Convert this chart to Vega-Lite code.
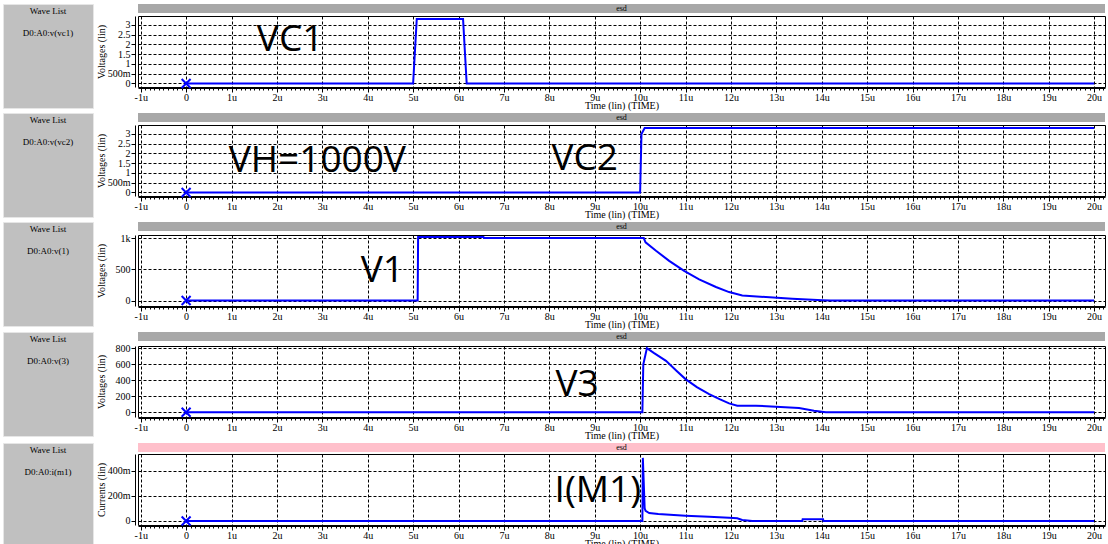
{
  "$schema": "https://vega.github.io/schema/vega-lite/v6.json",
  "padding": {"left": 2, "top": 3, "right": 0, "bottom": 0},
  "background": "white",
  "datasets": {
    "vc1": [{"t":0,"v":0},{"t":5.0,"v":0},{"t":5.08,"v":3.3},{"t":6.1,"v":3.3},{"t":6.18,"v":0},{"t":20,"v":0}],
    "vc2": [{"t":0,"v":0},{"t":10.0,"v":0},{"t":10.03,"v":3.0},{"t":10.1,"v":3.3},{"t":20,"v":3.3}],
    "v1": [{"t":0,"v":0},{"t":5.1,"v":0},{"t":5.11,"v":1015},{"t":6.55,"v":1015},{"t":6.56,"v":1000},{"t":10.08,"v":1000},{"t":10.12,"v":930},{"t":10.35,"v":796},{"t":10.64,"v":635},{"t":10.97,"v":474},{"t":11.3,"v":339},{"t":11.67,"v":216},{"t":11.96,"v":135},{"t":12.25,"v":81},{"t":12.77,"v":55},{"t":13.35,"v":27},{"t":14.02,"v":5},{"t":14.2,"v":0},{"t":20,"v":0}],
    "v3": [{"t":0,"v":0},{"t":10.05,"v":0},{"t":10.07,"v":600},{"t":10.15,"v":804},{"t":10.3,"v":745},{"t":10.57,"v":645},{"t":10.8,"v":520},{"t":11.0,"v":416},{"t":11.25,"v":315},{"t":11.52,"v":229},{"t":11.75,"v":165},{"t":11.96,"v":112},{"t":12.14,"v":83},{"t":12.55,"v":83},{"t":12.99,"v":70},{"t":13.5,"v":54},{"t":13.83,"v":20},{"t":14.09,"v":0},{"t":20,"v":0}],
    "im1": [{"t":0,"v":0},{"t":10.05,"v":0},{"t":10.06,"v":0.5},{"t":10.1,"v":0.1},{"t":10.12,"v":0.08},{"t":10.2,"v":0.063},{"t":10.4,"v":0.055},{"t":11.0,"v":0.042},{"t":11.52,"v":0.034},{"t":11.96,"v":0.026},{"t":12.14,"v":0.021},{"t":12.25,"v":0.008},{"t":12.47,"v":0},{"t":13.57,"v":0},{"t":13.58,"v":0.013},{"t":14.03,"v":0.013},{"t":14.04,"v":0},{"t":20,"v":0}]
  },
  "spacing": 1,
  "vconcat": [
    {
      "spacing": -4, "align": "none",
      "hconcat": [
        {"width": 90, "height": 104, "view": {"fill": "#c0c0c0", "stroke": "#e6e6e6"},
         "data": {"values": [{"kind": "button", "label": "Wave List"}, {"kind": "item", "label": "D0:A0:v(vc1)"}]},
         "mark": {"type": "text", "font": "Liberation Serif", "fontSize": 9, "color": "black"},
         "encoding": {"y": {"field": "kind", "type": "nominal", "scale": {"type": "point", "domain": ["button", "item", "a", "b", "c"], "padding": 0.3}, "axis": null}, "text": {"field": "label"}}},
        {"spacing": 1, "align": "none", "vconcat": [
          {"width": 967, "height": 9, "view": {"fill": "#a8a8a8", "stroke": null}, "data": {"values": [{"name": "esd"}]},
           "mark": {"type": "text", "font": "Liberation Serif", "fontSize": 8, "color": "black"}, "encoding": {"text": {"field": "name"}}},
          {"width": 967, "height": 71, "view": {"stroke": "black", "fill": "white"},
           "data": {"name": "vc1"},
           "encoding": {
             "x": {"field": "t", "type": "quantitative", "scale": {"domain": [-1.06, 20.24], "nice": false, "zero": false},
                   "axis": {"title": "Time (lin) (TIME)", "tickCount": 210, "labelExpr": "abs(datum.value-round(datum.value))<0.001 ? (round(datum.value)==0 ? '0' : round(datum.value)+'u') : ''", "labelOverlap": false, "labelFlush": false, "grid": true, "gridOpacity": {"condition": {"test": "abs(datum.value-round(datum.value))<0.001", "value": 1}, "value": 0}, "tickSize": {"condition": {"test": "abs(datum.value-round(datum.value))<0.001", "value": 4}, "value": 2}, "offset": 1, "labelPadding": 0, "titlePadding": -2}},
             "y": {"field": "v", "type": "quantitative", "scale": {"domain": [-0.18, 3.46], "nice": false, "zero": false},
                   "axis": {"title": "Voltages (lin)", "values": [0, 0.5, 1, 1.5, 2, 2.5, 3], "labelExpr": "datum.value==0.5 ? '500m' : format(datum.value, '~g')", "labelOverlap": false, "grid": true, "offset": 3, "tickSize": 4, "labelPadding": 1, "minExtent": 44, "maxExtent": 44, "titleX": -29}}
           },
           "layer": [
             {"mark": {"type": "line", "color": "#0000ff", "strokeWidth": 2}},
             {"transform": [{"filter": "datum.t==0"}], "mark": {"type": "point", "shape": "M-1,-1L1,1M-1,1L1,-1", "filled": false, "color": "#0000ff", "strokeWidth": 2, "size": 80, "opacity": 1}},
             {"data": {"values": [{"label": "VC1", "t": 2.29, "v": 2.24}]}, "mark": {"type": "text", "font": "Open Sans", "fontSize": 37, "color": "black"},
              "encoding": {"text": {"field": "label"}}}
           ]}
        ]}
      ]
    },
    {
      "spacing": -4, "align": "none",
      "hconcat": [
        {"width": 90, "height": 104, "view": {"fill": "#c0c0c0", "stroke": "#e6e6e6"},
         "data": {"values": [{"kind": "button", "label": "Wave List"}, {"kind": "item", "label": "D0:A0:v(vc2)"}]},
         "mark": {"type": "text", "font": "Liberation Serif", "fontSize": 9, "color": "black"},
         "encoding": {"y": {"field": "kind", "type": "nominal", "scale": {"type": "point", "domain": ["button", "item", "a", "b", "c"], "padding": 0.3}, "axis": null}, "text": {"field": "label"}}},
        {"spacing": 1, "align": "none", "vconcat": [
          {"width": 967, "height": 9, "view": {"fill": "#a8a8a8", "stroke": null}, "data": {"values": [{"name": "esd"}]},
           "mark": {"type": "text", "font": "Liberation Serif", "fontSize": 8, "color": "black"}, "encoding": {"text": {"field": "name"}}},
          {"width": 967, "height": 71, "view": {"stroke": "black", "fill": "white"},
           "data": {"name": "vc2"},
           "encoding": {
             "x": {"field": "t", "type": "quantitative", "scale": {"domain": [-1.06, 20.24], "nice": false, "zero": false},
                   "axis": {"title": "Time (lin) (TIME)", "tickCount": 210, "labelExpr": "abs(datum.value-round(datum.value))<0.001 ? (round(datum.value)==0 ? '0' : round(datum.value)+'u') : ''", "labelOverlap": false, "labelFlush": false, "grid": true, "gridOpacity": {"condition": {"test": "abs(datum.value-round(datum.value))<0.001", "value": 1}, "value": 0}, "tickSize": {"condition": {"test": "abs(datum.value-round(datum.value))<0.001", "value": 4}, "value": 2}, "offset": 1, "labelPadding": 0, "titlePadding": -2}},
             "y": {"field": "v", "type": "quantitative", "scale": {"domain": [-0.18, 3.46], "nice": false, "zero": false},
                   "axis": {"title": "Voltages (lin)", "values": [0, 0.5, 1, 1.5, 2, 2.5, 3], "labelExpr": "datum.value==0.5 ? '500m' : format(datum.value, '~g')", "labelOverlap": false, "grid": true, "offset": 3, "tickSize": 4, "labelPadding": 1, "minExtent": 44, "maxExtent": 44, "titleX": -29}}
           },
           "layer": [
             {"mark": {"type": "line", "color": "#0000ff", "strokeWidth": 2}},
             {"transform": [{"filter": "datum.t==0"}], "mark": {"type": "point", "shape": "M-1,-1L1,1M-1,1L1,-1", "filled": false, "color": "#0000ff", "strokeWidth": 2, "size": 80, "opacity": 1}},
             {"data": {"values": [{"label": "VH=1000V", "t": 2.89, "v": 1.6}, {"label": "VC2", "t": 8.78, "v": 1.7}]}, "mark": {"type": "text", "font": "Open Sans", "fontSize": 37, "color": "black"},
              "encoding": {"text": {"field": "label"}}}
           ]}
        ]}
      ]
    },
    {
      "spacing": -4, "align": "none",
      "hconcat": [
        {"width": 90, "height": 104, "view": {"fill": "#c0c0c0", "stroke": "#e6e6e6"},
         "data": {"values": [{"kind": "button", "label": "Wave List"}, {"kind": "item", "label": "D0:A0:v(1)"}]},
         "mark": {"type": "text", "font": "Liberation Serif", "fontSize": 9, "color": "black"},
         "encoding": {"y": {"field": "kind", "type": "nominal", "scale": {"type": "point", "domain": ["button", "item", "a", "b", "c"], "padding": 0.3}, "axis": null}, "text": {"field": "label"}}},
        {"spacing": 1, "align": "none", "vconcat": [
          {"width": 967, "height": 9, "view": {"fill": "#a8a8a8", "stroke": null}, "data": {"values": [{"name": "esd"}]},
           "mark": {"type": "text", "font": "Liberation Serif", "fontSize": 8, "color": "black"}, "encoding": {"text": {"field": "name"}}},
          {"width": 967, "height": 71, "view": {"stroke": "black", "fill": "white"},
           "data": {"name": "v1"},
           "encoding": {
             "x": {"field": "t", "type": "quantitative", "scale": {"domain": [-1.06, 20.24], "nice": false, "zero": false},
                   "axis": {"title": "Time (lin) (TIME)", "tickCount": 210, "labelExpr": "abs(datum.value-round(datum.value))<0.001 ? (round(datum.value)==0 ? '0' : round(datum.value)+'u') : ''", "labelOverlap": false, "labelFlush": false, "grid": true, "gridOpacity": {"condition": {"test": "abs(datum.value-round(datum.value))<0.001", "value": 1}, "value": 0}, "tickSize": {"condition": {"test": "abs(datum.value-round(datum.value))<0.001", "value": 4}, "value": 2}, "offset": 1, "labelPadding": 0, "titlePadding": -2}},
             "y": {"field": "v", "type": "quantitative", "scale": {"domain": [-88, 1048], "nice": false, "zero": false},
                   "axis": {"title": "Voltages (lin)", "values": [0, 500, 1000], "labelExpr": "datum.value==1000 ? '1k' : format(datum.value, '~g')", "labelOverlap": false, "grid": true, "offset": 3, "tickSize": 4, "labelPadding": 1, "minExtent": 44, "maxExtent": 44, "titleX": -29}}
           },
           "layer": [
             {"mark": {"type": "line", "color": "#0000ff", "strokeWidth": 2}},
             {"transform": [{"filter": "datum.t==0"}], "mark": {"type": "point", "shape": "M-1,-1L1,1M-1,1L1,-1", "filled": false, "color": "#0000ff", "strokeWidth": 2, "size": 80, "opacity": 1}},
             {"data": {"values": [{"label": "V1", "t": 4.32, "v": 470}]}, "mark": {"type": "text", "font": "Open Sans", "fontSize": 37, "color": "black"},
              "encoding": {"text": {"field": "label"}}}
           ]}
        ]}
      ]
    },
    {
      "spacing": -4, "align": "none",
      "hconcat": [
        {"width": 90, "height": 104, "view": {"fill": "#c0c0c0", "stroke": "#e6e6e6"},
         "data": {"values": [{"kind": "button", "label": "Wave List"}, {"kind": "item", "label": "D0:A0:v(3)"}]},
         "mark": {"type": "text", "font": "Liberation Serif", "fontSize": 9, "color": "black"},
         "encoding": {"y": {"field": "kind", "type": "nominal", "scale": {"type": "point", "domain": ["button", "item", "a", "b", "c"], "padding": 0.3}, "axis": null}, "text": {"field": "label"}}},
        {"spacing": 1, "align": "none", "vconcat": [
          {"width": 967, "height": 9, "view": {"fill": "#a8a8a8", "stroke": null}, "data": {"values": [{"name": "esd"}]},
           "mark": {"type": "text", "font": "Liberation Serif", "fontSize": 8, "color": "black"}, "encoding": {"text": {"field": "name"}}},
          {"width": 967, "height": 71, "view": {"stroke": "black", "fill": "white"},
           "data": {"name": "v3"},
           "encoding": {
             "x": {"field": "t", "type": "quantitative", "scale": {"domain": [-1.06, 20.24], "nice": false, "zero": false},
                   "axis": {"title": "Time (lin) (TIME)", "tickCount": 210, "labelExpr": "abs(datum.value-round(datum.value))<0.001 ? (round(datum.value)==0 ? '0' : round(datum.value)+'u') : ''", "labelOverlap": false, "labelFlush": false, "grid": true, "gridOpacity": {"condition": {"test": "abs(datum.value-round(datum.value))<0.001", "value": 1}, "value": 0}, "tickSize": {"condition": {"test": "abs(datum.value-round(datum.value))<0.001", "value": 4}, "value": 2}, "offset": 1, "labelPadding": 0, "titlePadding": -2}},
             "y": {"field": "v", "type": "quantitative", "scale": {"domain": [-59, 831], "nice": false, "zero": false},
                   "axis": {"title": "Voltages (lin)", "values": [0, 200, 400, 600, 800], "labelOverlap": false, "grid": true, "offset": 3, "tickSize": 4, "labelPadding": 1, "minExtent": 44, "maxExtent": 44, "titleX": -29}}
           },
           "layer": [
             {"mark": {"type": "line", "color": "#0000ff", "strokeWidth": 2}},
             {"transform": [{"filter": "datum.t==0"}], "mark": {"type": "point", "shape": "M-1,-1L1,1M-1,1L1,-1", "filled": false, "color": "#0000ff", "strokeWidth": 2, "size": 80, "opacity": 1}},
             {"data": {"values": [{"label": "V3", "t": 8.61, "v": 340}]}, "mark": {"type": "text", "font": "Open Sans", "fontSize": 37, "color": "black"},
              "encoding": {"text": {"field": "label"}}}
           ]}
        ]}
      ]
    },
    {
      "spacing": -4, "align": "none",
      "hconcat": [
        {"width": 90, "height": 104, "view": {"fill": "#c0c0c0", "stroke": "#e6e6e6"},
         "data": {"values": [{"kind": "button", "label": "Wave List"}, {"kind": "item", "label": "D0:A0:i(m1)"}]},
         "mark": {"type": "text", "font": "Liberation Serif", "fontSize": 9, "color": "black"},
         "encoding": {"y": {"field": "kind", "type": "nominal", "scale": {"type": "point", "domain": ["button", "item", "a", "b", "c"], "padding": 0.3}, "axis": null}, "text": {"field": "label"}}},
        {"spacing": 1, "align": "none", "vconcat": [
          {"width": 967, "height": 9, "view": {"fill": "#ffc0cb", "stroke": null}, "data": {"values": [{"name": "esd"}]},
           "mark": {"type": "text", "font": "Liberation Serif", "fontSize": 8, "color": "black"}, "encoding": {"text": {"field": "name"}}},
          {"width": 967, "height": 71, "view": {"stroke": "black", "fill": "white"},
           "data": {"name": "im1"},
           "encoding": {
             "x": {"field": "t", "type": "quantitative", "scale": {"domain": [-1.06, 20.24], "nice": false, "zero": false},
                   "axis": {"title": "Time (lin) (TIME)", "tickCount": 210, "labelExpr": "abs(datum.value-round(datum.value))<0.001 ? (round(datum.value)==0 ? '0' : round(datum.value)+'u') : ''", "labelOverlap": false, "labelFlush": false, "grid": true, "gridOpacity": {"condition": {"test": "abs(datum.value-round(datum.value))<0.001", "value": 1}, "value": 0}, "tickSize": {"condition": {"test": "abs(datum.value-round(datum.value))<0.001", "value": 4}, "value": 2}, "offset": 1, "labelPadding": 0, "titlePadding": -2}},
             "y": {"field": "v", "type": "quantitative", "scale": {"domain": [-0.032, 0.531], "nice": false, "zero": false},
                   "axis": {"title": "Currents (lin)", "values": [0, 0.2, 0.4], "labelExpr": "datum.value==0 ? '0' : round(datum.value*1000)+'m'", "labelOverlap": false, "grid": true, "offset": 3, "tickSize": 4, "labelPadding": 1, "minExtent": 44, "maxExtent": 44, "titleX": -29}}
           },
           "layer": [
             {"mark": {"type": "line", "color": "#0000ff", "strokeWidth": 2}},
             {"transform": [{"filter": "datum.t==0"}], "mark": {"type": "point", "shape": "M-1,-1L1,1M-1,1L1,-1", "filled": false, "color": "#0000ff", "strokeWidth": 2, "size": 80, "opacity": 1}},
             {"data": {"values": [{"label": "I(M1)", "t": 9.07, "v": 0.24}]}, "mark": {"type": "text", "font": "Open Sans", "fontSize": 37, "color": "black"},
              "encoding": {"text": {"field": "label"}}}
           ]}
        ]}
      ]
    }
  ],
  "config": {
    "axis": {"labelFont": "Liberation Serif", "titleFont": "Liberation Serif", "labelFontSize": 10, "titleFontSize": 10, "titleFontWeight": "normal", "labelColor": "black", "titleColor": "black", "domainColor": "black", "tickColor": "black", "gridColor": "black", "gridDash": [3, 2], "gridWidth": 1}
  }
}
